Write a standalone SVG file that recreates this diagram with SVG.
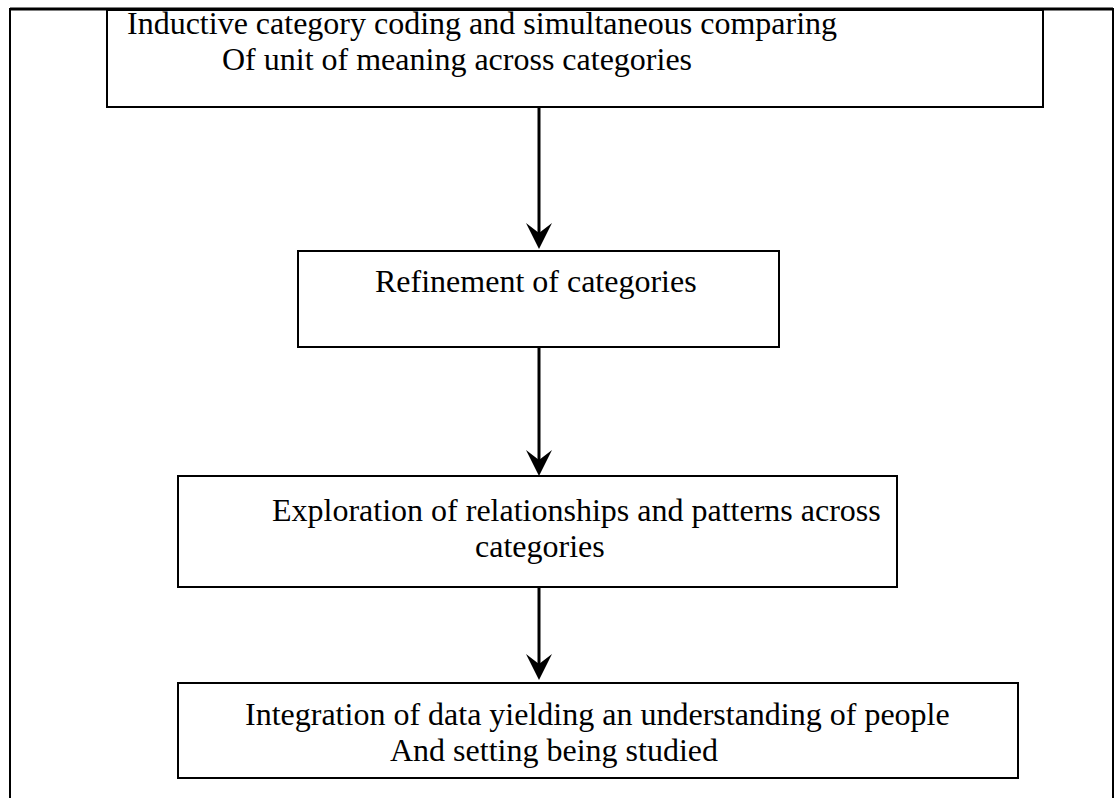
<svg xmlns="http://www.w3.org/2000/svg" width="1116" height="798" viewBox="0 0 1116 798">
  <style>
    .box { fill: #ffffff; stroke: #000000; stroke-width: 2; }
    .frame { fill: none; stroke: #000000; stroke-width: 2; }
    .label { font-family: "Liberation Serif", "Times New Roman", serif; font-size: 32px; fill: #000000; }
    .flow { stroke: #000000; stroke-width: 3; fill: none; marker-end: url(#head); }
  </style>
  <defs>
    <marker id="head" markerUnits="userSpaceOnUse" viewBox="0 0 26 26" refX="15" refY="13" markerWidth="26" markerHeight="26" orient="auto">
      <path d="M0,0 L26,13 L0,26 L10,13 Z" fill="#000000"/>
    </marker>
  </defs>
  <rect width="1116" height="798" fill="#ffffff"/>

  <!-- outer page frame (continues past the bottom edge) -->
  <path class="frame" d="M10,820 L10,9 L1113,9 L1113,820"/>
  <line x1="10" y1="9" x2="1113" y2="9" stroke="#000" stroke-width="3"/>

  <g id="coding">
    <rect class="box" x="107" y="10" width="936" height="97"/>
    <text class="label" x="127" y="34">Inductive category coding and simultaneous comparing</text>
    <text class="label" x="222" y="70">Of unit of meaning across categories</text>
  </g>

  <g id="refinement">
    <rect class="box" x="298" y="251" width="481" height="96"/>
    <text class="label" x="375" y="292">Refinement of categories</text>
  </g>

  <g id="exploration">
    <rect class="box" x="178" y="476" width="719" height="111"/>
    <text class="label" x="272" y="521">Exploration of relationships and patterns across</text>
    <text class="label" x="475" y="557">categories</text>
  </g>

  <g id="integration">
    <rect class="box" x="178" y="683" width="840" height="95"/>
    <text class="label" x="245" y="725">Integration of data yielding an understanding of people</text>
    <text class="label" x="390" y="761">And setting being studied</text>
  </g>

  <g id="connectors">
    <line class="flow" x1="539" y1="107" x2="539" y2="238"/>
    <line class="flow" x1="539" y1="347" x2="539" y2="465"/>
    <line class="flow" x1="539" y1="587" x2="539" y2="669"/>
  </g>
</svg>
